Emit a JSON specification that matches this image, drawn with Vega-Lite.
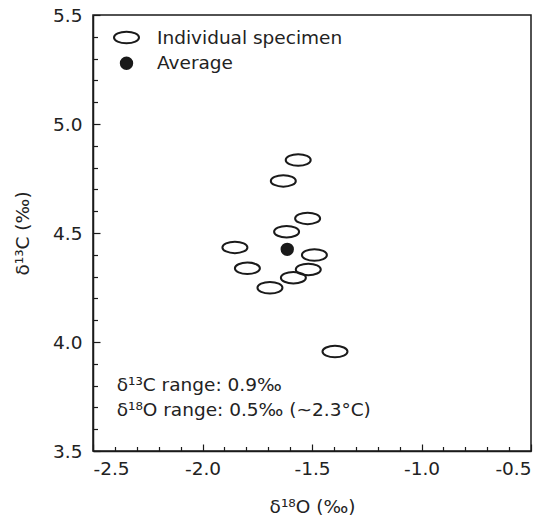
{
  "$schema": "https://vega.github.io/schema/vega-lite/v6.json",
  "width": 438,
  "height": 436,
  "autosize": {"type": "none"},
  "padding": {"left": 93, "top": 15, "right": 21, "bottom": 76},
  "background": "white",
  "config": {
    "view": {"stroke": "#1a1a1a", "strokeWidth": 1.5},
    "font": "DejaVu Sans"
  },
  "encoding": {
    "x": {
      "field": "d18O",
      "type": "quantitative",
      "scale": {"domain": [-2.5, -0.5], "nice": false, "zero": false},
      "axis": {
        "title": "δ¹⁸O (‰)",
        "values": [-2.5, -2.4, -2.3, -2.2, -2.1, -2.0, -1.9, -1.8, -1.7, -1.6, -1.5, -1.4, -1.3, -1.2, -1.1, -1.0, -0.9, -0.8, -0.7, -0.6, -0.5],
        "labelExpr": "abs(datum.value*2 - round(datum.value*2)) < 0.01 ? replace(format(datum.value, '.1f'), '−', '-') : ''",
        "tickSize": {"condition": {"test": "abs(datum.value*2 - round(datum.value*2)) < 0.01", "value": -7}, "value": -4.5},
        "labelOverlap": false,
        "labelPadding": 15,
        "titlePadding": 17,
        "grid": false,
        "domainColor": "#1a1a1a",
        "domainWidth": 1.5,
        "tickColor": "#1a1a1a",
        "tickWidth": 1.2,
        "labelFont": "DejaVu Sans",
        "labelFontSize": 18.5,
        "labelColor": "#222",
        "titleFont": "DejaVu Sans",
        "titleFontSize": 18.5,
        "titleFontWeight": "normal",
        "titleColor": "#222"
      }
    },
    "y": {
      "field": "d13C",
      "type": "quantitative",
      "scale": {"domain": [3.5, 5.5], "nice": false, "zero": false},
      "axis": {
        "title": "δ¹³C (‰)",
        "values": [3.5, 3.6, 3.7, 3.8, 3.9, 4.0, 4.1, 4.2, 4.3, 4.4, 4.5, 4.6, 4.7, 4.8, 4.9, 5.0, 5.1, 5.2, 5.3, 5.4, 5.5],
        "labelExpr": "abs(datum.value*2 - round(datum.value*2)) < 0.01 ? format(datum.value, '.1f') : ''",
        "tickSize": {"condition": {"test": "abs(datum.value*2 - round(datum.value*2)) < 0.01", "value": -7}, "value": -4.5},
        "labelOverlap": false,
        "labelPadding": 18,
        "titlePadding": 20,
        "grid": false,
        "domainColor": "#1a1a1a",
        "domainWidth": 1.5,
        "tickColor": "#1a1a1a",
        "tickWidth": 1.2,
        "labelFont": "DejaVu Sans",
        "labelFontSize": 18.5,
        "labelColor": "#222",
        "titleFont": "DejaVu Sans",
        "titleFontSize": 18.5,
        "titleFontWeight": "normal",
        "titleColor": "#222"
      }
    }
  },
  "layer": [
    {
      "data": {
        "values": [
          {"kind": "Individual specimen", "d18O": -1.563, "d13C": 4.835},
          {"kind": "Individual specimen", "d18O": -1.631, "d13C": 4.739},
          {"kind": "Individual specimen", "d18O": -1.520, "d13C": 4.567},
          {"kind": "Individual specimen", "d18O": -1.616, "d13C": 4.506},
          {"kind": "Individual specimen", "d18O": -1.852, "d13C": 4.434},
          {"kind": "Individual specimen", "d18O": -1.489, "d13C": 4.399},
          {"kind": "Individual specimen", "d18O": -1.795, "d13C": 4.338},
          {"kind": "Individual specimen", "d18O": -1.517, "d13C": 4.333},
          {"kind": "Individual specimen", "d18O": -1.585, "d13C": 4.295},
          {"kind": "Individual specimen", "d18O": -1.692, "d13C": 4.249},
          {"kind": "Individual specimen", "d18O": -1.395, "d13C": 3.956},
          {"kind": "Average", "d18O": -1.613, "d13C": 4.425}
        ]
      },
      "mark": {"type": "point", "strokeWidth": 2, "opacity": 1, "stroke": "#1a1a1a"},
      "encoding": {
        "shape": {
          "field": "kind",
          "type": "nominal",
          "scale": {
            "domain": ["Individual specimen", "Average"],
            "range": ["M-1,0 C-1,-0.254 -0.552,-0.46 0,-0.46 C0.552,-0.46 1,-0.254 1,0 C1,0.254 0.552,0.46 0,0.46 C-0.552,0.46 -1,0.254 -1,0 Z", "circle"]
          },
          "legend": {
            "orient": "none",
            "legendX": 20,
            "legendY": 9,
            "title": null,
            "padding": 0,
            "rowPadding": 5,
            "labelOffset": 17,
            "labelLimit": 0,
            "labelFont": "DejaVu Sans",
            "labelFontSize": 18.5,
            "labelColor": "#222",
            "symbolStrokeColor": "#1a1a1a",
            "symbolStrokeWidth": 2
          }
        },
        "fill": {
          "field": "kind",
          "type": "nominal",
          "scale": {"domain": ["Individual specimen", "Average"], "range": ["transparent", "#1a1a1a"]}
        },
        "size": {
          "field": "kind",
          "type": "nominal",
          "scale": {"domain": ["Individual specimen", "Average"], "range": [625, 130]}
        }
      }
    },
    {
      "data": {
        "values": [
          {"label": "δ¹³C range: 0.9‰", "d18O": -2.392, "d13C": 3.803},
          {"label": "δ¹⁸O range: 0.5‰ (~2.3°C)", "d18O": -2.392, "d13C": 3.688}
        ]
      },
      "mark": {"type": "text", "align": "left", "baseline": "middle", "fontSize": 18.5, "font": "DejaVu Sans", "color": "#222"},
      "encoding": {
        "text": {"field": "label"}
      }
    }
  ]
}
